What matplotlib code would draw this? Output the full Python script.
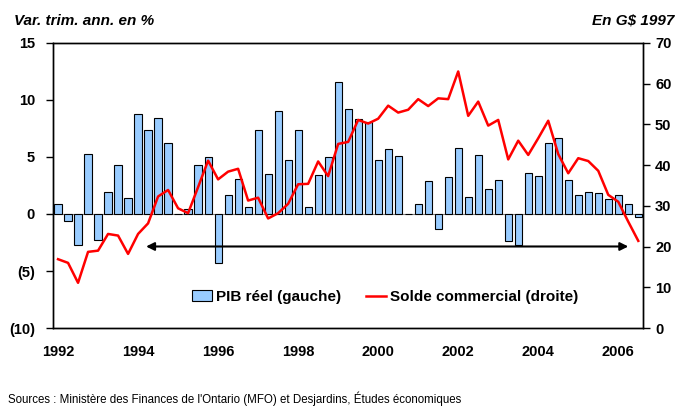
import matplotlib
matplotlib.use("Agg")
import matplotlib.pyplot as plt
import numpy as np
from matplotlib.patches import Patch
from matplotlib.lines import Line2D

plt.rcParams['font.family'] = ['Liberation Sans', 'DejaVu Sans']

# trimestres 1992T1 -> 2006T3
year_labels = ['1992', '1994', '1996', '1998', '2000', '2002', '2004', '2006']

pib_reel = [0.9, -0.6, -2.7, 5.3, -2.3, 1.9, 4.3, 1.4, 8.8, 7.4, 8.4, 6.2,
            0.0, 0.4, 4.3, 5.0, -4.3, 1.7, 3.1, 0.6, 7.4, 3.5, 9.0, 4.7,
            7.4, 0.6, 3.4, 5.0, 11.6, 9.2, 8.3, 8.1, 4.7, 5.7, 5.1, 0.0,
            0.9, 2.9, -1.3, 3.2, 5.8, 1.5, 5.2, 2.2, 3.0, -2.4, -2.7, 3.6,
            3.3, 6.2, 6.7, 3.0, 1.7, 1.9, 1.8, 1.3, 1.7, 0.9, -0.3]

solde_commercial = [16.9, 16.0, 11.1, 18.7, 19.0, 23.1, 22.7, 18.2, 23.1, 25.7, 32.3, 33.9,
                    29.4, 28.2, 34.6, 41.1, 36.5, 38.4, 39.1, 31.3, 32.0, 26.9, 28.2, 30.5,
                    35.3, 35.4, 40.9, 37.3, 45.2, 45.7, 51.1, 50.2, 51.4, 54.6, 52.9, 53.6,
                    56.2, 54.5, 56.4, 56.2, 63.0, 52.1, 55.6, 49.7, 51.1, 41.4, 46.0, 42.5,
                    46.6, 50.9, 42.7, 38.0, 41.7, 41.0, 38.6, 32.7, 31.0, 26.1, 21.4]

x = np.arange(len(pib_reel))

fig = plt.figure(figsize=(6.8, 4.09), dpi=100)
ax1 = fig.add_axes([0.078, 0.198, 0.868, 0.697])
ax2 = ax1.twinx()

ax1.bar(x, pib_reel, width=0.72, color='#99ccff', edgecolor='black', linewidth=0.8, zorder=2)
ax1.axhline(0, color='#808080', lw=0.8, zorder=1)
ax2.plot(x, solde_commercial, color='#ff0000', lw=1.8)

ax1.set_xlim(-0.5, len(x) - 0.5)
ax1.set_ylim(-10, 15)
ax1.set_yticks([15, 10, 5, 0, -5, -10])
ax1.set_yticklabels(['15', '10', '5', '0', '(5)', '(10)'])
ax2.set_ylim(0, 70)
ax2.set_yticks(range(0, 71, 10))

ax1.set_xticks(range(0, len(x), 8))
ax1.set_xticklabels(year_labels)
ax1.tick_params(axis='x', length=0, pad=12)
ax1.tick_params(axis='y', direction='out', length=5, width=1, pad=8)
ax2.tick_params(axis='y', direction='out', length=5, width=1)
for lab in ax1.get_xticklabels() + ax1.get_yticklabels() + ax2.get_yticklabels():
    lab.set_fontweight('bold')
    lab.set_fontsize(10.5)

for ax in (ax1, ax2):
    for s in ax.spines.values():
        s.set_linewidth(1)

# fleche horizontale
ax1.annotate('', xy=(8.8, -2.85), xytext=(57.0, -2.85),
             arrowprops=dict(arrowstyle='<|-|>', color='black', lw=1.5,
                             mutation_scale=12, shrinkA=0, shrinkB=0))

handles = [Patch(facecolor='#99ccff', edgecolor='black', linewidth=0.8),
           Line2D([0], [0], color='#ff0000', lw=1.8)]
ax1.legend(handles, ['PIB réel (gauche)', 'Solde commercial (droite)'],
           loc='center', bbox_to_anchor=(0.563, 0.109), ncol=2, frameon=False,
           prop={'weight': 'bold', 'size': 11}, handlelength=1.3, columnspacing=1.6,
           handletextpad=0.3)

fig.text(0.02, 0.949, 'Var. trim. ann. en %', fontsize=11, fontweight='bold',
         fontstyle='italic', va='center', ha='left')
fig.text(0.992, 0.949, 'En G$ 1997', fontsize=11, fontweight='bold',
         fontstyle='italic', va='center', ha='right')
fig.text(0.012, 0.024, "Sources : Ministère des Finances de l'Ontario (MFO) et Desjardins, Études économiques",
         fontsize=8.3, va='center', ha='left')

fig.savefig('out.png', dpi=100)
